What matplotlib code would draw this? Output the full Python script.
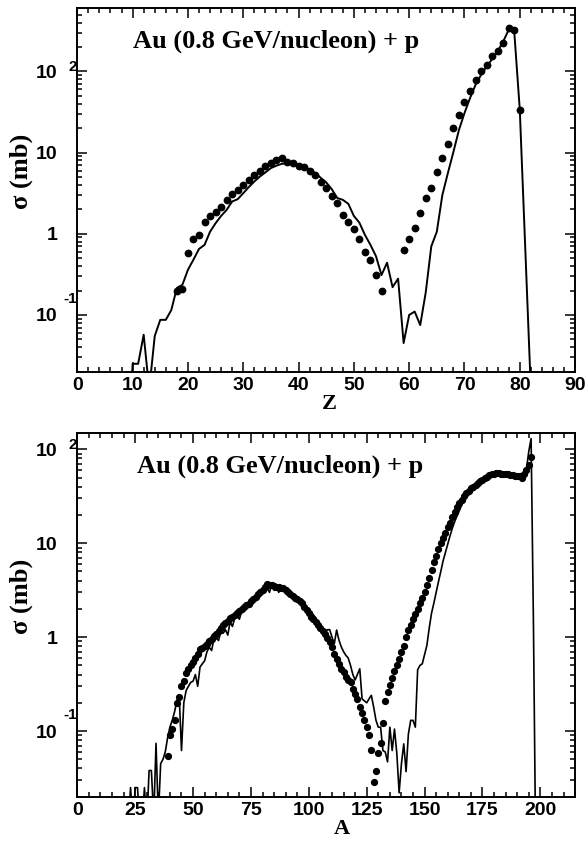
import matplotlib
matplotlib.use('Agg')
from matplotlib import pyplot as plt
from matplotlib import ticker
import numpy as np

# Au (0.8 GeV/nucleon) + p : measured (dots) and calculated (line) cross sections

# charge distribution
z_exp = list(range(18, 56)) + list(range(59, 81))
sig_z_exp = [0.20, 0.21, 0.58, 0.86, 0.97, 1.4, 1.66, 1.88, 2.16, 2.6,
             3.08, 3.47, 4.0, 4.6, 5.3, 5.97, 6.9, 7.4, 8.1, 8.5,
             7.6, 7.4, 6.9, 6.7, 5.9, 5.3, 4.4, 3.65, 2.9, 2.4,
             1.7, 1.4, 1.14, 0.86, 0.6, 0.48, 0.31, 0.2,
             0.63, 0.86, 1.19, 1.8, 2.76, 3.7, 5.7, 8.5, 12.8, 20.3,
             29, 42, 58, 79, 100, 121, 153, 177, 224, 343,
             327, 34]

z_calc = list(range(9, 83))
sig_z_calc = [0.001, 0.025, 0.025, 0.057, 0.012, 0.055, 0.087, 0.087, 0.115, 0.215,
              0.235, 0.36, 0.48, 0.65, 0.73, 1.06, 1.35, 1.66, 1.97, 2.5,
              2.67, 3.16, 3.76, 4.4, 5.07, 5.7, 6.45, 6.9, 7.3, 7.3,
              7.1, 7.0, 6.8, 6.2, 5.6, 4.9, 4.3, 3.55, 2.76, 2.62,
              2.34, 1.66, 1.37, 0.97, 0.73, 0.53, 0.31, 0.44, 0.22, 0.28,
              0.045, 0.1, 0.11, 0.075, 0.19, 0.7, 1.06, 3.0, 5.6, 10.2,
              19, 30.7, 46.9, 68.5, 91, 115, 142, 177, 234, 327,
              310, 34, 0.64, 0.012]

# mass distribution
a_exp = list(range(39, 197))
sig_a_exp = [0.054, 0.09, 0.105, 0.13, 0.2, 0.23, 0.3, 0.34, 0.42, 0.46,      # 39-48
             0.5, 0.55, 0.6, 0.66, 0.74, 0.77, 0.8, 0.84, 0.91, 0.95,         # 49-58
             1.02, 1.08, 1.17, 1.25, 1.33, 1.4, 1.5, 1.58, 1.65, 1.72,        # 59-68
             1.8, 1.88, 1.98, 2.1, 2.2, 2.27, 2.4, 2.55, 2.7, 2.85,           # 69-78
             3.0, 3.2, 3.45, 3.7, 3.6, 3.55, 3.5, 3.45, 3.4, 3.35,            # 79-88
             3.3, 3.15, 3.0, 2.9, 2.75, 2.6, 2.55, 2.45, 2.3, 2.1,            # 89-98
             1.95, 1.8, 1.65, 1.55, 1.45, 1.35, 1.25, 1.15, 1.08, 0.98,       # 99-108
             0.88, 0.78, 0.66, 0.58, 0.52, 0.46, 0.43, 0.38, 0.35, 0.33,      # 109-118
             0.28, 0.25, 0.22, 0.18, 0.155, 0.13, 0.11, 0.09, 0.063, 0.029,   # 119-128
             0.038, 0.058, 0.074, 0.122, 0.21, 0.26, 0.31, 0.37, 0.44, 0.5,   # 129-138
             0.58, 0.7, 0.8, 1.0, 1.2, 1.35, 1.55, 1.75, 2.0, 2.3,            # 139-148
             2.6, 3.0, 3.6, 4.3, 5.2, 6.3, 7.3, 8.6, 10, 11.5,                # 149-158
             13, 14.8, 16.5, 19, 21.5, 24, 26.5, 28.7, 31.5, 34,              # 159-168
             36, 38.3, 40, 42, 44, 45.5, 47.5, 49.5, 51, 53,                  # 169-178
             54, 55, 55.5, 55.5, 55, 54.5, 54.5, 54, 53.5, 53,                # 179-188
             52.5, 52, 51.5, 50, 55, 60, 68, 82]                              # 189-196

a_calc = list(range(22, 199))
sig_a_calc = [0.01, 0.025, 0.01, 0.025, 0.025, 0.01, 0.01, 0.025, 0.01, 0.038,  # 22-31
              0.038, 0.012, 0.074, 0.012, 0.045, 0.05, 0.06, 0.085, 0.11, 0.13,  # 32-41
              0.16, 0.21, 0.24, 0.062, 0.2, 0.27, 0.3, 0.33, 0.34, 0.4,          # 42-51
              0.3, 0.48, 0.52, 0.56, 0.7, 0.78, 0.72, 0.95, 0.98, 0.92,          # 52-61
              1.15, 1.1, 1.2, 1.05, 1.45, 1.3, 1.6, 1.7, 1.55, 1.9,              # 62-71
              2.1, 2.0, 2.4, 2.3, 2.55, 2.8, 2.6, 3.0, 3.2, 3.4,                 # 72-81
              3.3, 3.0, 3.6, 3.15, 3.4, 3.0, 3.3, 3.25, 2.9, 3.1,                # 82-91
              2.9, 2.7, 2.65, 2.55, 2.4, 2.45, 2.2, 2.1, 1.95, 1.85,             # 92-101
              1.72, 1.6, 1.45, 1.35, 1.25, 1.1, 1.2, 1.2, 1.0, 0.85,             # 102-111
              1.19, 0.93, 0.79, 0.7, 0.64, 0.6, 0.5, 0.4, 0.35, 0.4,             # 112-121
              0.46, 0.22, 0.21, 0.2, 0.22, 0.24, 0.18, 0.13, 0.11, 0.11,         # 122-131
              0.062, 0.06, 0.047, 0.11, 0.062, 0.105, 0.058, 0.022, 0.045, 0.073,  # 132-141
              0.037, 0.093, 0.13, 0.13, 0.11, 0.45, 0.5, 0.52, 0.65, 0.82,       # 142-151
              1.25, 1.8, 2.3, 3.0, 3.9, 5.0, 6.5, 8.0, 9.8, 12,                  # 152-161
              14.5, 17, 19.5, 22.5, 25.5, 28.5, 31.5, 34.5, 37, 39.5,            # 162-171
              41.5, 43.5, 45.5, 47, 48.5, 50, 51.5, 52.5, 53.5, 55,              # 172-181
              55.5, 55.5, 55, 55, 54.5, 54, 53, 52, 51.5, 51,                    # 182-191
              52, 55, 62, 95, 130, 1.5, 0.005]                                   # 192-198

y_major = [0.1, 1, 10, 100]
y_base = ['10', '1', '10', '10']
y_power = ['-1', '', '', '2']
power_rise = [11.5, 0, 0, 3]

title_text = 'Au (0.8 GeV/nucleon) + p'
serif = 'Liberation Serif'

plt.rcParams['font.family'] = ['Liberation Sans', 'DejaVu Sans']
plt.rcParams['font.weight'] = 'bold'
plt.rcParams['axes.linewidth'] = 1.4


def style_axes(ax, xmax, xmajor, xminor, ymax):
    ax.set_yscale('log')
    ax.set_xlim(0, xmax)
    ax.set_ylim(0.02, ymax)
    ax.xaxis.set_major_locator(ticker.MultipleLocator(xmajor))
    ax.xaxis.set_minor_locator(ticker.MultipleLocator(xminor))
    ax.yaxis.set_major_locator(ticker.FixedLocator(y_major))
    ax.yaxis.set_minor_locator(ticker.LogLocator(base=10, subs=np.arange(2, 10)))
    ax.yaxis.set_minor_formatter(ticker.NullFormatter())
    ax.set_yticklabels(y_base)
    ax.tick_params(which='both', direction='in', top=True, right=True,
                   width=1.1, labelsize=14)
    ax.tick_params(which='major', length=7)
    ax.tick_params(which='minor', length=3.3)
    ax.tick_params(axis='y', pad=14)
    ax.tick_params(axis='x', pad=4)

    # the exponents sit just left of the spine, above the "10"
    for v, p, r in zip(y_major, y_power, power_rise):
        if p:
            ax.annotate(p, xy=(0, v), xycoords=('axes fraction', 'data'),
                        xytext=(-0.5, r), textcoords='offset points',
                        ha='right', va='center', fontsize=11, fontweight='bold')


fig = plt.figure(figsize=(5.87, 8.42), dpi=100)
ax1 = fig.add_axes([0.1317, 0.5586, 0.848, 0.4315])
ax2 = fig.add_axes([0.1317, 0.0538, 0.848, 0.4316])

# top: Z
ax1.plot(z_calc, sig_z_calc, color='black', lw=1.4, zorder=2)
ax1.plot(z_exp, sig_z_exp, 'o', color='black', ms=4.6, zorder=3)
style_axes(ax1, 90, 10, 2, 600)
ax1.text(0.112, 0.891, title_text, transform=ax1.transAxes, family=serif,
         fontsize=19, fontweight='bold', ha='left', va='baseline')
ax1.set_ylabel('σ (mb)', family=serif, fontsize=19, fontweight='bold')
ax1.yaxis.label.set_va('center')
ax1.yaxis.set_label_coords(-0.113, 0.552)
ax1.set_xlabel('Z', family=serif, fontsize=16, fontweight='bold')
ax1.xaxis.label.set_va('center')
ax1.xaxis.set_label_coords(0.506, -0.089)

# bottom: A
ax2.plot(a_calc, sig_a_calc, color='black', lw=1.2, zorder=2)
ax2.plot(a_exp, sig_a_exp, 'o', color='black', ms=4.2, zorder=3)
style_axes(ax2, 215, 25, 5, 148)
ax2.text(0.12, 0.891, title_text, transform=ax2.transAxes, family=serif,
         fontsize=19, fontweight='bold', ha='left', va='baseline')
ax2.set_ylabel('σ (mb)', family=serif, fontsize=19, fontweight='bold')
ax2.yaxis.label.set_va('center')
ax2.yaxis.set_label_coords(-0.113, 0.552)
ax2.set_xlabel('A', family=serif, fontsize=16, fontweight='bold')
ax2.xaxis.label.set_va('center')
ax2.xaxis.set_label_coords(0.532, -0.088)

fig.savefig('out.png', dpi=100)
